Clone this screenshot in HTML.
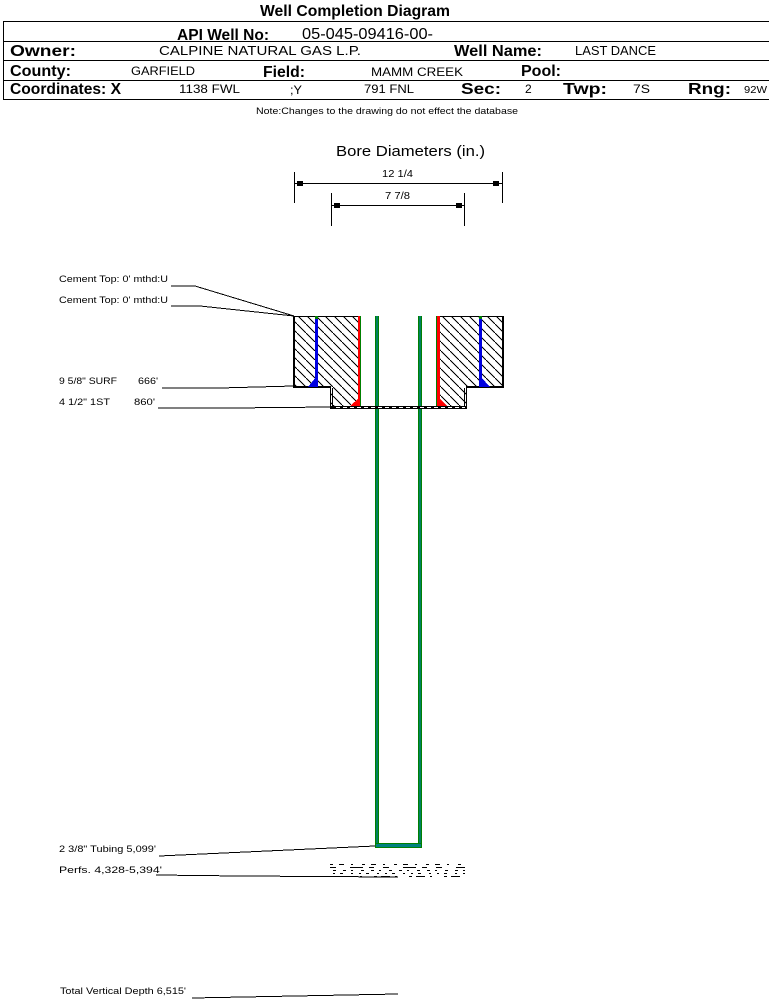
<!DOCTYPE html>
<html>
<head>
<meta charset="utf-8">
<style>
html,body{margin:0;padding:0;background:#fff;width:769px;height:999px;overflow:hidden}
svg{display:block}
text{font-family:"Liberation Sans",sans-serif;fill:#000}
.b{font-weight:bold;font-size:16px}
.r{font-size:13px}
.s{font-size:9.5px}
line,polyline,polygon,rect,path{shape-rendering:crispEdges}
</style>
</head>
<body>
<svg width="769" height="999" viewBox="0 0 769 999" xmlns="http://www.w3.org/2000/svg">
<defs>
<pattern id="h" width="9" height="9" patternUnits="userSpaceOnUse">
<path d="M0 0L9 9" stroke="#000" stroke-width="1" fill="none"/>
</pattern>
</defs>

<!-- Header -->
<text x="260" y="16" class="b" textLength="190" lengthAdjust="spacingAndGlyphs">Well Completion Diagram</text>
<path d="M3 21.5H769M3 41.5H769M3 60.5H769M3 80.5H769M3 99.5H769M3.5 21V100" stroke="#000" fill="none"/>
<text x="177" y="40" class="b" textLength="92" lengthAdjust="spacingAndGlyphs">API Well No:</text>
<text x="302" y="39" font-size="16" textLength="131" lengthAdjust="spacingAndGlyphs">05-045-09416-00-</text>
<text x="10" y="56" class="b" textLength="66" lengthAdjust="spacingAndGlyphs">Owner:</text>
<text x="159" y="55" class="r" textLength="202" lengthAdjust="spacingAndGlyphs">CALPINE NATURAL GAS L.P.</text>
<text x="454" y="56" class="b" textLength="88" lengthAdjust="spacingAndGlyphs">Well Name:</text>
<text x="575" y="55" class="r" textLength="81" lengthAdjust="spacingAndGlyphs">LAST DANCE</text>
<text x="10" y="76" class="b" textLength="61" lengthAdjust="spacingAndGlyphs">County:</text>
<text x="131" y="75" font-size="12" textLength="64" lengthAdjust="spacingAndGlyphs">GARFIELD</text>
<text x="263" y="77" class="b" textLength="42" lengthAdjust="spacingAndGlyphs">Field:</text>
<text x="371" y="76" font-size="12" textLength="92" lengthAdjust="spacingAndGlyphs">MAMM CREEK</text>
<text x="521" y="76" class="b" textLength="40" lengthAdjust="spacingAndGlyphs">Pool:</text>
<text x="10" y="94" class="b" textLength="111" lengthAdjust="spacingAndGlyphs">Coordinates: X</text>
<text x="179" y="93" font-size="12" textLength="61" lengthAdjust="spacingAndGlyphs">1138 FWL</text>
<text x="290" y="94" font-size="12" textLength="12" lengthAdjust="spacingAndGlyphs">;Y</text>
<text x="364" y="93" font-size="12" textLength="50" lengthAdjust="spacingAndGlyphs">791 FNL</text>
<text x="461" y="94" class="b" textLength="40" lengthAdjust="spacingAndGlyphs">Sec:</text>
<text x="525" y="93" font-size="12">2</text>
<text x="563" y="94" class="b" textLength="44" lengthAdjust="spacingAndGlyphs">Twp:</text>
<text x="633" y="93" font-size="12" textLength="17" lengthAdjust="spacingAndGlyphs">7S</text>
<text x="688" y="94" class="b" textLength="43" lengthAdjust="spacingAndGlyphs">Rng:</text>
<text x="744" y="93" font-size="10" textLength="23" lengthAdjust="spacingAndGlyphs">92W</text>
<text x="256" y="114" class="s" textLength="262" lengthAdjust="spacingAndGlyphs">Note:Changes to the drawing do not effect the database</text>

<!-- Bore diameters -->
<text x="336" y="156" font-size="15" textLength="149" lengthAdjust="spacingAndGlyphs">Bore Diameters (in.)</text>
<text x="382" y="177" font-size="10" textLength="31" lengthAdjust="spacingAndGlyphs">12 1/4</text>
<text x="385" y="199" font-size="10" textLength="25" lengthAdjust="spacingAndGlyphs">7 7/8</text>
<path d="M294.5 172V203M502.5 172V203M294 183.5H502M331.5 193V226M464.5 193V226M331 205.5H464" stroke="#000" fill="none"/>
<path d="M297 181h6v5h-6zM493 181h6v5h-6zM334 203h6v5h-6zM456 203h6v5h-6z" fill="#000"/>

<!-- Hatched annulus -->
<path d="M294 316H359V407H331V386H294Z" fill="url(#h)"/>
<path d="M438 316H502V386H466V407H438Z" fill="url(#h)"/>
<path d="M294 316.5H359M438 316.5H503" stroke="#000" fill="none"/>
<path d="M294 316V387H331M503 316V387H466" stroke="#000" stroke-width="2" fill="none"/>

<!-- Casing lines -->
<rect x="315" y="316" width="3" height="71" fill="#0000e0"/>
<rect x="315" y="316" width="3" height="3" fill="#008000"/>
<rect x="479" y="316" width="3" height="71" fill="#0000e0"/>
<rect x="479" y="316" width="3" height="3" fill="#008000"/>
<rect x="358" y="316" width="2" height="91" fill="#ff0000"/>
<rect x="360" y="316" width="1" height="90" fill="#008000"/>
<rect x="437" y="316" width="3" height="91" fill="#ff0000"/>
<rect x="436" y="316" width="1" height="90" fill="#008000"/>
<polygon points="308,387 316,377 318,387" fill="#0000e0"/>
<polygon points="481,377 490,387 481,387" fill="#0000e0"/>
<polygon points="350,406 359,398 360,406" fill="#ff0000"/>
<polygon points="439,398 447,406 438,406" fill="#ff0000"/>

<!-- Tubing -->
<rect x="375" y="316" width="4" height="531" fill="#008000"/>
<rect x="376" y="316" width="2" height="530" fill="#008060"/>
<rect x="418" y="316" width="4" height="531" fill="#008000"/>
<rect x="419" y="316" width="2" height="530" fill="#008060"/>
<rect x="375" y="843" width="47" height="5" fill="#008000"/>
<rect x="376" y="844" width="45" height="3" fill="#008080"/>

<!-- Bottom of bore: double line drawn over tubing -->
<path d="M330.500 386V409M332.500 388V407M466.500 386V409M464.500 388V407" stroke="#000" fill="none"/>
<rect x="330" y="406" width="137" height="3" fill="#000"/>
<rect x="333" y="407" width="132" height="1" fill="#fff"/>
<path d="M333 407.500H465" stroke="#000" stroke-dasharray="3 4" fill="none"/>

<!-- Perforations -->
<g stroke="#000" fill="none">
<path d="M330 864.500H465" stroke-dasharray="3 6 5 7 2 9"/>
<path d="M330 867.500H465" stroke-dasharray="6 14 13 6 5 9"/>
<path d="M333 870.500H465" stroke-dasharray="3 7 3 5 2 8"/>
<path d="M333 873.500H465" stroke-dasharray="2 5 3 8 2 6"/>
<path d="M346 876.500H465" stroke-dasharray="9 5 2 12 3 4"/>
</g>

<!-- Labels -->
<g font-size="9.500">
<text x="59" y="282" textLength="109" lengthAdjust="spacingAndGlyphs">Cement Top: 0' mthd:U</text>
<text x="59" y="303" textLength="109" lengthAdjust="spacingAndGlyphs">Cement Top: 0' mthd:U</text>
<text x="59" y="384" textLength="58" lengthAdjust="spacingAndGlyphs">9 5/8" SURF</text>
<text x="138" y="384" textLength="20" lengthAdjust="spacingAndGlyphs">666'</text>
<text x="59" y="405" textLength="51" lengthAdjust="spacingAndGlyphs">4 1/2" 1ST</text>
<text x="134" y="405" textLength="21" lengthAdjust="spacingAndGlyphs">860'</text>
<text x="59" y="852" textLength="97" lengthAdjust="spacingAndGlyphs">2 3/8" Tubing 5,099'</text>
<text x="59" y="873" textLength="103" lengthAdjust="spacingAndGlyphs">Perfs. 4,328-5,394'</text>
<text x="60" y="994" textLength="126" lengthAdjust="spacingAndGlyphs">Total Vertical Depth 6,515'</text>
</g>

<!-- Leaders -->
<g fill="none" stroke="#000" stroke-width="1">
<polyline points="171,286 195,286 294,316"/>
<polyline points="171,306 200,306 294,316"/>
<polyline points="162,388 220,388 294,386"/>
<polyline points="158,408 230,408 331,407"/>
<polyline points="159,856 375,846"/>
<polyline points="156,875 240,876 398,877"/>
<polyline points="192,998 398,994"/>
</g>
</svg>
</body>
</html>
